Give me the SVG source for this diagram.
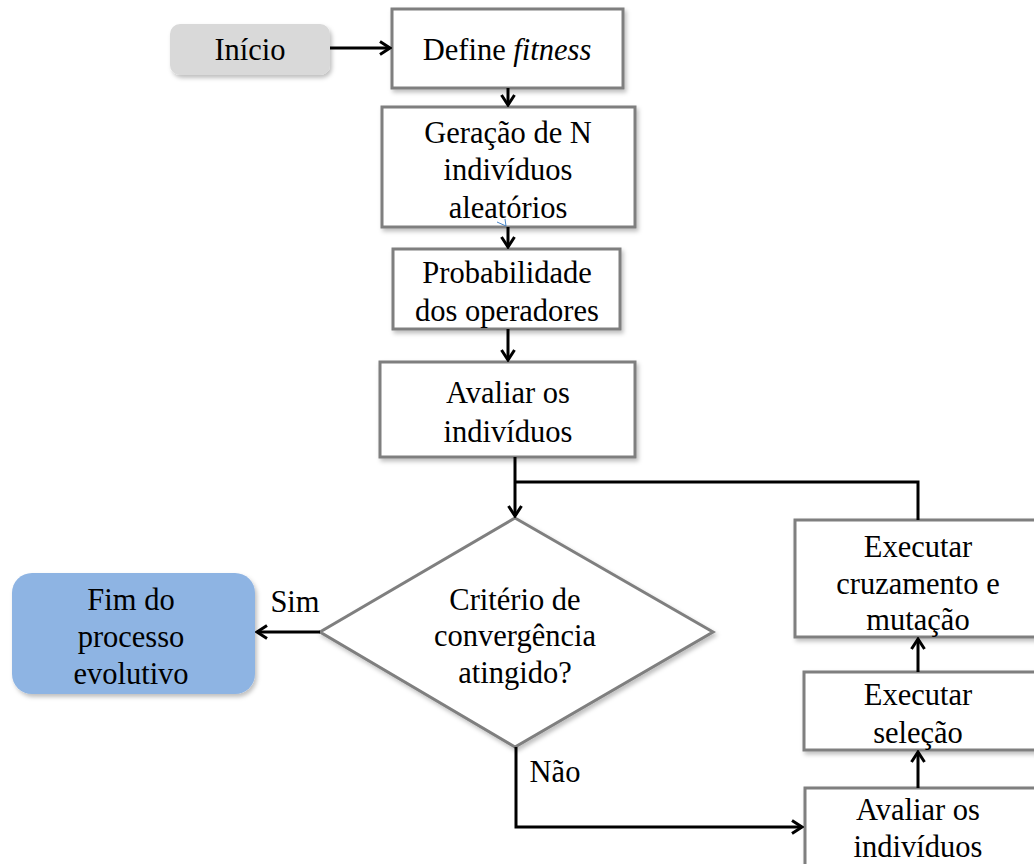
<svg xmlns="http://www.w3.org/2000/svg" width="1034" height="864" viewBox="0 0 1034 864">
<defs>
<filter id="sh" x="-10%" y="-10%" width="130%" height="140%">
<feDropShadow dx="2" dy="3" stdDeviation="2" flood-color="#000" flood-opacity="0.25"/>
</filter>
<marker id="ar" viewBox="0 0 14 16" refX="12" refY="8" markerWidth="14" markerHeight="16" markerUnits="userSpaceOnUse" orient="auto">
<path d="M2,1.5 L12,8 L2,14.5" fill="none" stroke="#000" stroke-width="3"/>
</marker>
<style>
.box{fill:#fff;stroke:#7f7f7f;stroke-width:3;filter:url(#sh)}
.t{font-family:"Liberation Serif","Times New Roman",serif;font-size:30.5px;fill:#000;text-anchor:middle}
.c{fill:none;stroke:#000;stroke-width:3}
</style>
</defs>
<g id="inicio">
<rect x="170" y="24" width="160" height="51" rx="10" fill="#d9d9d9" filter="url(#sh)"/>
<text class="t" x="250" y="60">Início</text>
</g>
<g id="define">
<rect class="box" x="392" y="9" width="231" height="79"/>
<text class="t" x="507" y="60">Define <tspan font-style="italic">fitness</tspan></text>
</g>
<g id="geracao">
<rect class="box" x="382" y="107" width="253" height="120"/>
<text class="t" x="508" y="143">Geração de N</text>
<text class="t" x="508" y="180">indivíduos</text>
<text class="t" x="508" y="218">aleatórios</text>
<path d="M497,222 L506,226 L505,219" fill="none" stroke="#4a86c8" stroke-width="1"/>
</g>
<g id="probabilidade">
<rect class="box" x="393" y="249" width="227" height="80"/>
<text class="t" x="507" y="283">Probabilidade</text>
<text class="t" x="507" y="321">dos operadores</text>
</g>
<g id="avaliar1">
<rect class="box" x="380" y="362" width="255" height="95"/>
<text class="t" x="508" y="403">Avaliar os</text>
<text class="t" x="508" y="442">indivíduos</text>
</g>
<g id="criterio">
<polygon points="515,518 713,632 515,747 320,632" fill="#fff" stroke="#7f7f7f" stroke-width="3" filter="url(#sh)"/>
<text class="t" x="515" y="610">Critério de</text>
<text class="t" x="515" y="646">convergência</text>
<text class="t" x="515" y="683">atingido?</text>
</g>
<g id="fim">
<rect x="12" y="573" width="243" height="121" rx="20" fill="#8eb4e3" filter="url(#sh)"/>
<text class="t" x="131" y="610">Fim do</text>
<text class="t" x="131" y="647">processo</text>
<text class="t" x="131" y="684">evolutivo</text>
</g>
<g id="cruzamento">
<rect class="box" x="795" y="520" width="245" height="117"/>
<text class="t" x="918" y="557">Executar</text>
<text class="t" x="918" y="594">cruzamento e</text>
<text class="t" x="918" y="630">mutação</text>
</g>
<g id="selecao">
<rect class="box" x="804" y="672" width="235" height="78"/>
<text class="t" x="918" y="705">Executar</text>
<text class="t" x="918" y="743">seleção</text>
</g>
<g id="avaliar2">
<rect class="box" x="805" y="788" width="235" height="90"/>
<text class="t" x="918" y="820">Avaliar os</text>
<text class="t" x="918" y="857">indivíduos</text>
</g>
<g id="connectors">
<line class="c" x1="330" y1="48" x2="390" y2="48" marker-end="url(#ar)"/>
<line class="c" x1="508" y1="88" x2="508" y2="105" marker-end="url(#ar)"/>
<line class="c" x1="508" y1="227" x2="508" y2="247" marker-end="url(#ar)"/>
<line class="c" x1="508" y1="329" x2="508" y2="360" marker-end="url(#ar)"/>
<line class="c" x1="515" y1="457" x2="515" y2="516" marker-end="url(#ar)"/>
<polyline class="c" points="918,520 918,482 515,482"/>
<line class="c" x1="320" y1="632" x2="257" y2="632" marker-end="url(#ar)"/>
<polyline class="c" points="516,747 516,827 802,827" marker-end="url(#ar)"/>
<line class="c" x1="918" y1="788" x2="918" y2="752" marker-end="url(#ar)"/>
<line class="c" x1="918" y1="672" x2="918" y2="639" marker-end="url(#ar)"/>
<text class="t" x="295" y="612">Sim</text>
<text class="t" x="555" y="782">Não</text>
</g>
</svg>
